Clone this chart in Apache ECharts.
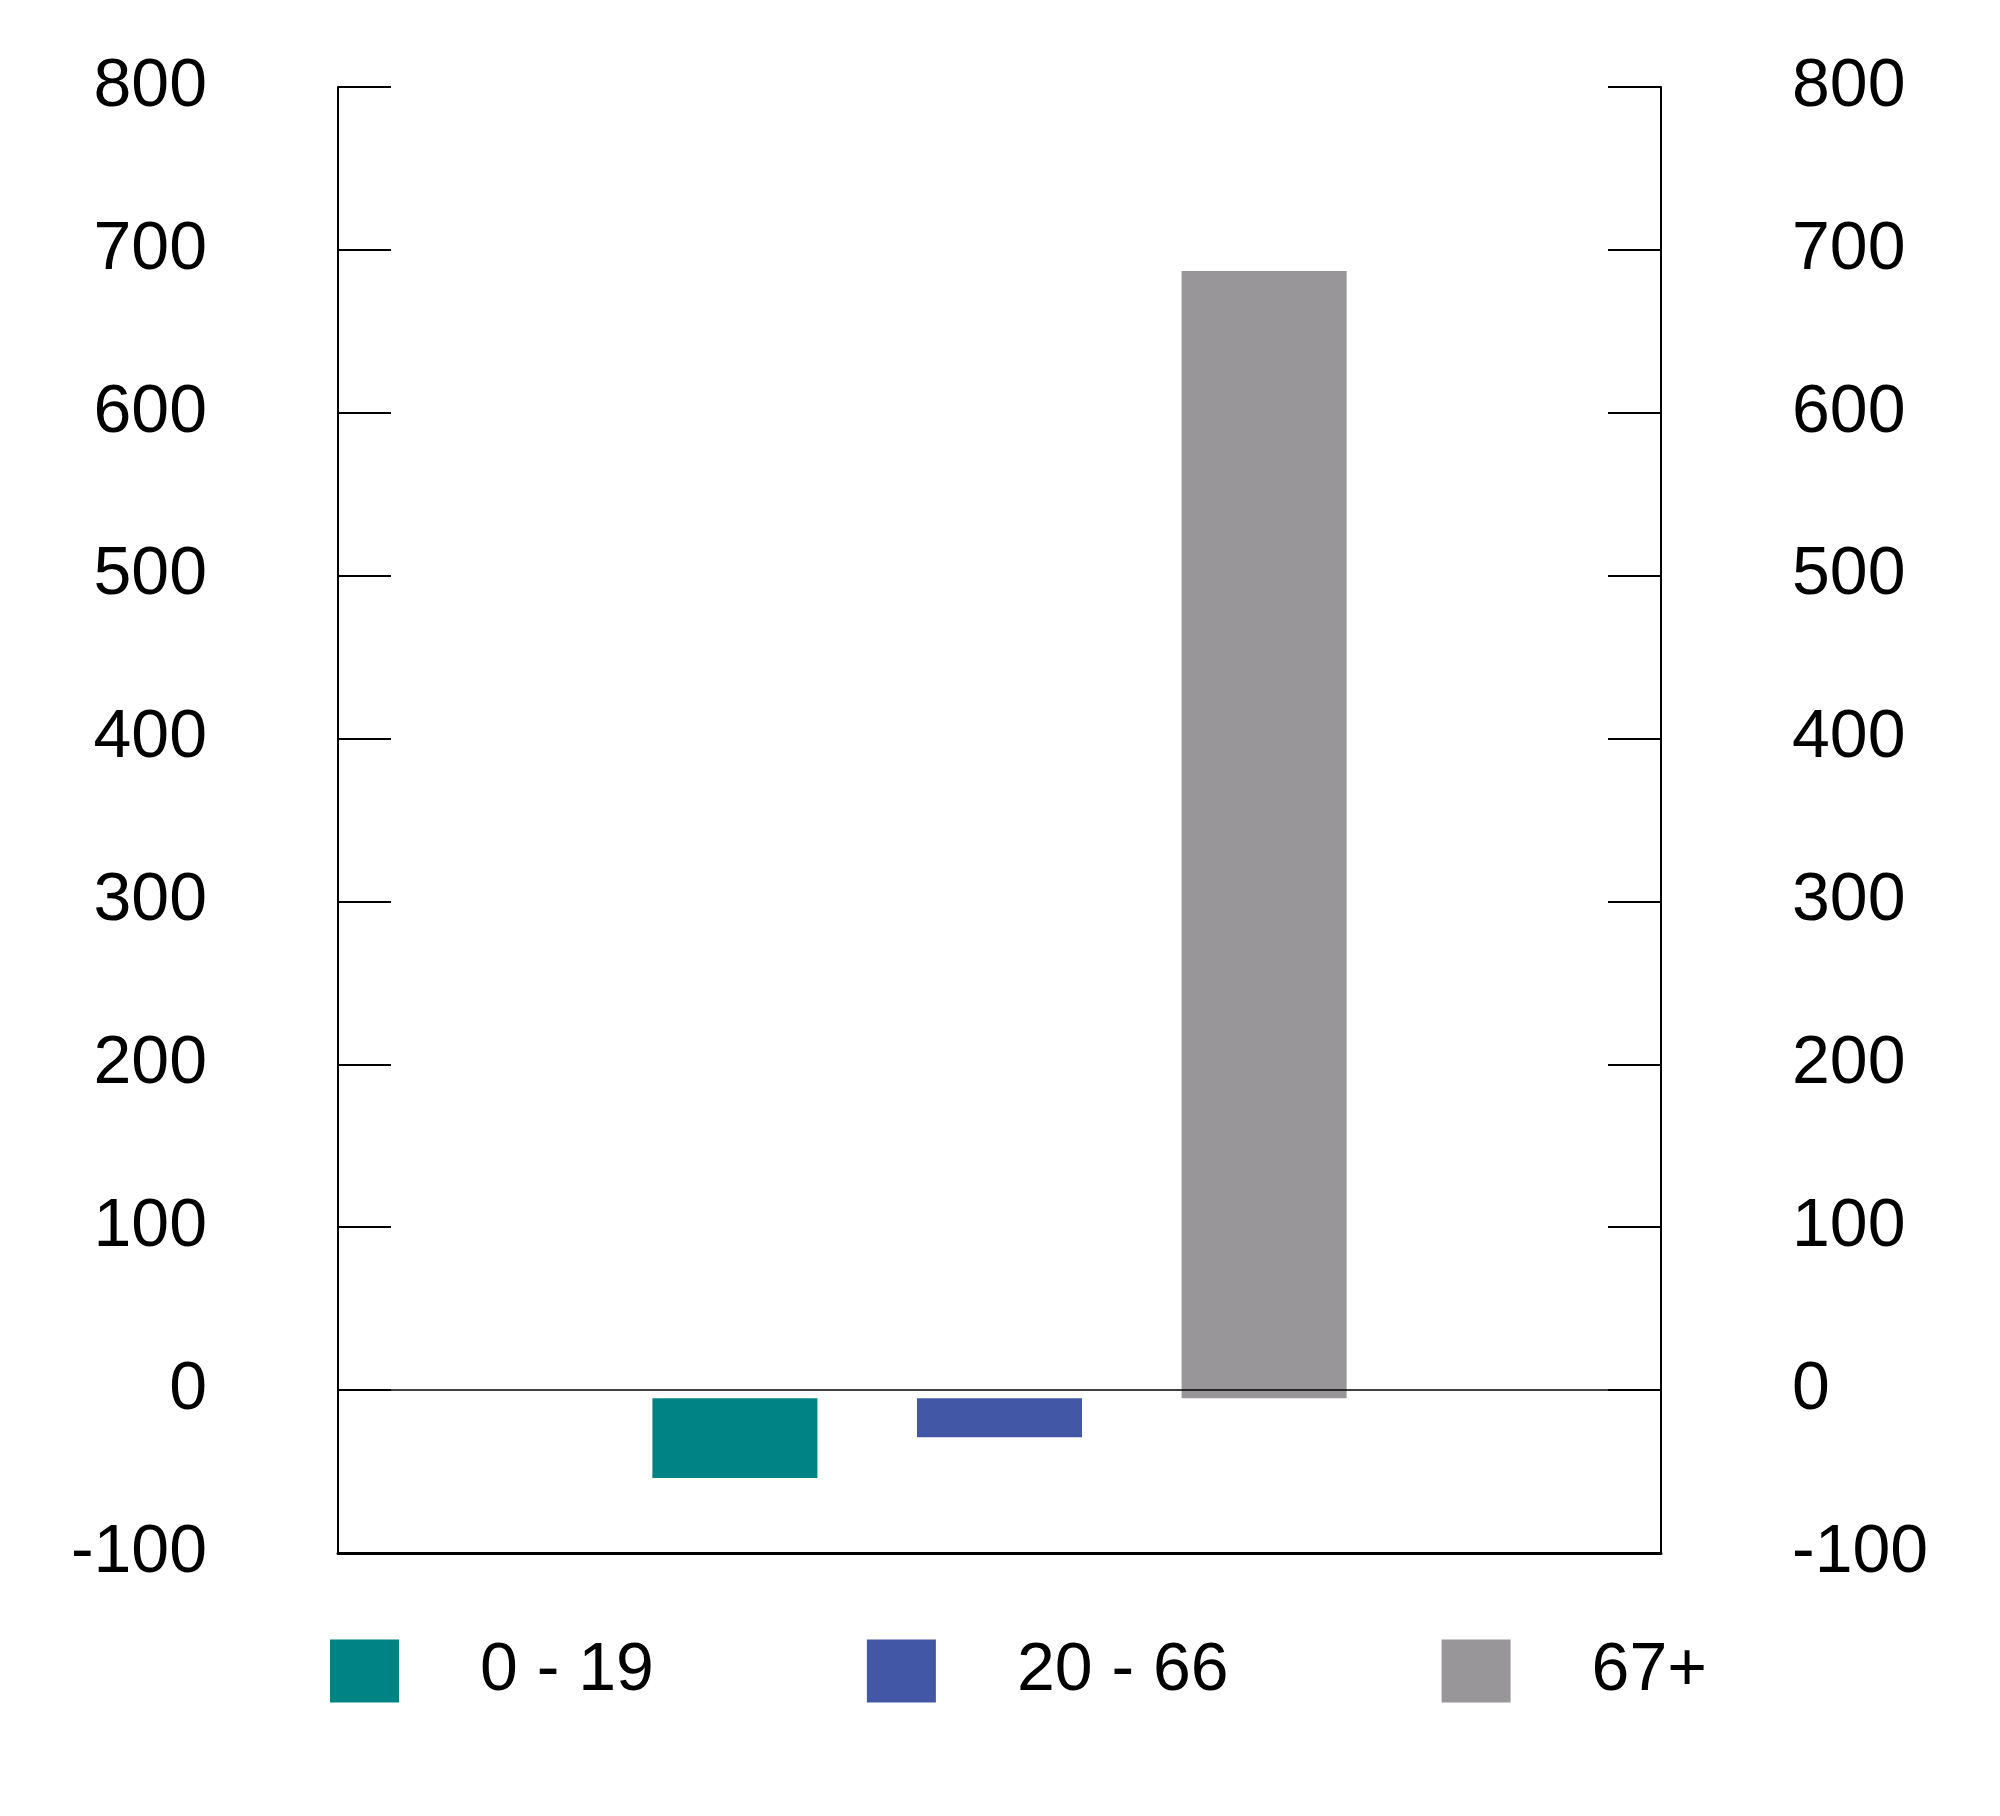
<!DOCTYPE html>
<html>
<head>
<meta charset="utf-8">
<script src="https://cdn.jsdelivr.net/npm/echarts@6/dist/echarts.min.js"></script>
<style>
    html, body { margin: 0; padding: 0; background: #fff; }
    #chart { width: 2000px; height: 1816px; }
</style>
</head>
<body>
<div id="chart"></div>
<script>
// empty slots left and right of the three groups
var categories = ['', '0 - 19', '20 - 66', '67+', ''];
var groups = ['0 - 19', '20 - 66', '67+'];
var values = [-54, -29, 687];
var colors = ['#008385', '#4257a6', '#989698'];
var yTicks = { min: -100, max: 800, interval: 100 };
var barBase = -5;

var myChart = echarts.init(document.getElementById('chart'));

var series = [];
for (var i = 0; i < groups.length; i++) {
    var data = [];
    for (var j = 0; j < categories.length; j++) {
        data.push(categories[j] === groups[i] ? values[i] : null);
    }
    series.push({
        name: groups[i],
        type: 'bar',
        data: data,
        barWidth: 165,
        barGap: '-100%',
        itemStyle: { color: colors[i] },
        markLine: i === 0 ? {
            silent: true,
            symbol: 'none',
            label: { show: false },
            lineStyle: { color: '#000', width: 1.5, type: 'solid' },
            data: [{ yAxis: 0 }]
        } : undefined
    });
}

var axisFont = {
    fontFamily: 'Liberation Sans',
    fontSize: 68,
    color: '#000'
};

function valueAxis (pos) {
    return {
        type: 'value',
        position: pos,
        min: yTicks.min,
        max: yTicks.max,
        interval: yTicks.interval,
        startValue: barBase,
        axisLine: { show: true, lineStyle: { color: '#000', width: 2 } },
        axisTick: { show: true, inside: true, length: 53, lineStyle: { color: '#000', width: 2 } },
        axisLabel: Object.assign({ margin: 131 }, axisFont),
        splitLine: { show: false }
    };
}

var option = {
    animation: false,
    backgroundColor: '#fff',
    grid: { left: 338, right: 339, top: 87, bottom: 263 },
    legend: {
        left: 325,
        top: 1632,
        icon: 'rect',
        itemWidth: 69,
        itemHeight: 63,
        itemGap: 213,
        data: groups,
        textStyle: {
            fontFamily: 'Liberation Sans',
            fontSize: 68,
            color: '#000',
            padding: [0, 0, 0, 76]
        }
    },
    xAxis: {
        type: 'category',
        data: categories,
        axisLine: { onZero: false, lineStyle: { color: '#000', width: 3 } },
        axisTick: { show: false },
        axisLabel: { show: false }
    },
    yAxis: [valueAxis('left'), valueAxis('right')],
    series: series
};
myChart.setOption(option);
</script>
</body>
</html>
